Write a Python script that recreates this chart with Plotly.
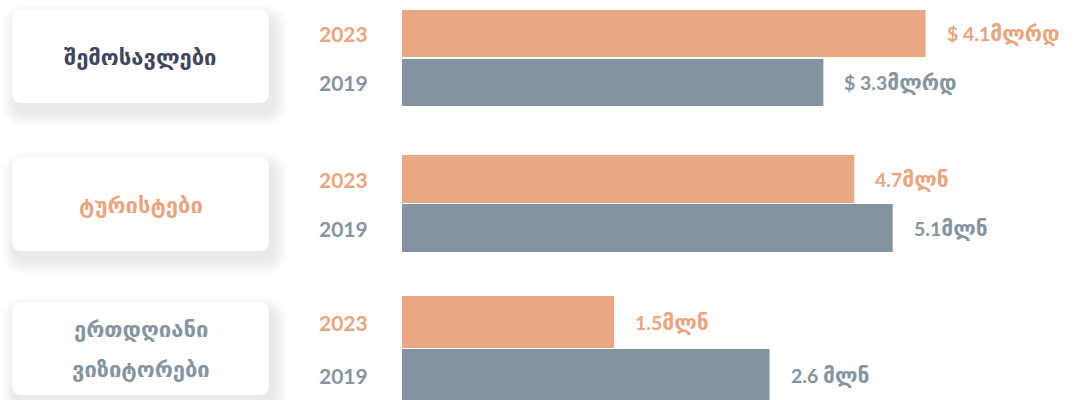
import re

import plotly.graph_objects as go
from plotly.subplots import make_subplots

metrics = ["შემოსავლები", "ტურისტები", "ერთდღიანი<br>ვიზიტორები"]
years = ["2019", "2023"]
values_2023 = [4.1, 4.7, 1.5]
values_2019 = [3.3, 5.1, 2.6]
labels_2023 = ["$ 4.1მლრდ", "4.7მლნ", "1.5მლნ"]
labels_2019 = ["$ 3.3მლრდ", "5.1მლნ", "2.6 მლნ"]

W, H = 1089, 400
ORANGE = "#e8a882"
GREY = "#83949f"
ORANGE_TXT = "#e8a57e"
GREY_TXT = "#8595a0"
metric_colors = ["#3f4659", ORANGE_TXT, GREY_TXT]
FONT = "Lato, 'DejaVu Sans', sans-serif"

x_ranges = [5.38, 7.14, 4.86]
y_domains = [[0.7325, 0.9775], [0.36875, 0.61375], [0.0, 0.26125]]
y_ranges = [[-0.5, 1.5], [-0.5, 1.5], [-0.4717, 1.5]]
bar_widths = [0.96, 0.98, 0.98]
cards = [(12, 10, 269, 103), (12, 157, 269, 251), (12, 302, 269, 395)]


def px(x):
    return x / W


def py(y):
    return 1 - y / H


def rrect(x0, y0, x1, y1, r):
    pts = [
        f"M {px(x0 + r)},{py(y0)}",
        f"L {px(x1 - r)},{py(y0)}",
        f"Q {px(x1)},{py(y0)} {px(x1)},{py(y0 + r)}",
        f"L {px(x1)},{py(y1 - r)}",
        f"Q {px(x1)},{py(y1)} {px(x1 - r)},{py(y1)}",
        f"L {px(x0 + r)},{py(y1)}",
        f"Q {px(x0)},{py(y1)} {px(x0)},{py(y1 - r)}",
        f"L {px(x0)},{py(y0 + r)}",
        f"Q {px(x0)},{py(y0)} {px(x0 + r)},{py(y0)}",
        "Z",
    ]
    return " ".join(pts)


def geo_big(s, size=21):
    # Georgian glyphs in the fallback font run small, so bump them up
    return re.sub(r"([\u10a0-\u10ff]+)", rf'<span style="font-size:{size}px">\1</span>', s)


fig = make_subplots(rows=3, cols=1)

for i in range(3):
    row = i + 1
    fig.add_trace(
        go.Bar(
            y=years,
            x=[values_2019[i], values_2023[i]],
            orientation="h",
            width=bar_widths[i],
            marker=dict(color=[GREY, ORANGE], line=dict(width=0)),
            hoverinfo="skip",
            showlegend=False,
        ),
        row=row,
        col=1,
    )
    sfx = "" if i == 0 else str(row)
    fig.update_layout(
        {
            f"xaxis{sfx}": dict(
                domain=[402 / W, 1], range=[0, x_ranges[i]], visible=False, fixedrange=True
            ),
            f"yaxis{sfx}": dict(
                domain=y_domains[i],
                range=y_ranges[i],
                visible=False,
                type="category",
                categoryorder="array",
                categoryarray=years,
                fixedrange=True,
            ),
        }
    )

    # value and year labels (category index: 0 = 2019, 1 = 2023)
    for yi, val, lab, col in [
        (years.index("2023"), values_2023[i], labels_2023[i], ORANGE_TXT),
        (years.index("2019"), values_2019[i], labels_2019[i], GREY_TXT),
    ]:
        fig.add_annotation(
            x=val, y=yi, xref=f"x{sfx}", yref=f"y{sfx}",
            text=geo_big(lab), showarrow=False, xanchor="left", yanchor="middle", xshift=19,
            font=dict(family=FONT, size=19.5, color=col, weight="bold"),
        )
        fig.add_annotation(
            x=370 / W, y=yi, xref="paper", yref=f"y{sfx}",
            text=years[yi], showarrow=False, xanchor="right", yanchor="middle",
            font=dict(family=FONT, size=21, color=col, weight="bold"),
        )

    # cards with soft shadow
    x0, y0, x1, y1 = cards[i]
    for k in range(7, 0, -1):
        e = k * 2
        fig.add_shape(
            type="path",
            path=rrect(x0 + 4 - e, y0 + 9 - e, x1 + 4 + e, y1 + 9 + e, 10 + e),
            xref="paper", yref="paper",
            fillcolor="rgba(60,65,70,0.016)", line=dict(width=0), layer="below",
        )
    fig.add_shape(
        type="path",
        path=rrect(x0, y0, x1, y1, 10),
        xref="paper", yref="paper",
        fillcolor="white", line=dict(width=0), layer="below",
    )

    lines = metrics[i].split("<br>")
    cy = (y0 + y1) / 2
    step = 40
    for j, ln in enumerate(lines):
        yy = cy + (j - (len(lines) - 1) / 2) * step
        fig.add_annotation(
            x=px((x0 + x1) / 2), y=py(yy), xref="paper", yref="paper",
            text=ln, showarrow=False, xanchor="center", yanchor="middle",
            font=dict(family=FONT, size=22, color=metric_colors[i], weight="bold"),
        )

fig.update_layout(
    width=W,
    height=H,
    margin=dict(l=0, r=0, t=0, b=0),
    paper_bgcolor="white",
    plot_bgcolor="rgba(0,0,0,0)",
    showlegend=False,
)

fig.write_html(
    "out.html",
    config={"displayModeBar": False},
    post_script="document.body.style.margin='0';",
)
